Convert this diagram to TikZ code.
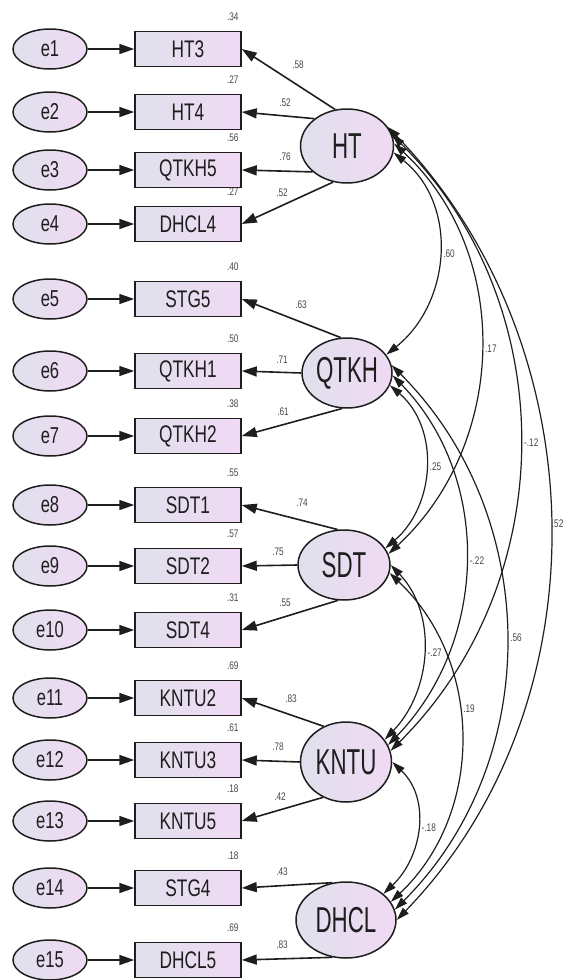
\documentclass[tikz,border=0pt]{standalone}
\usepackage{fontspec}
\setmainfont{Liberation Sans}
\newfontfamily\latfont[FakeStretch=0.62]{Liberation Sans}
\newfontfamily\obsfont[FakeStretch=0.72]{Liberation Sans}
\newfontfamily\numfont[FakeStretch=0.75]{Liberation Sans}
\usetikzlibrary{arrows.meta,shapes.geometric}
\definecolor{fillL}{RGB}{224,224,236}
\definecolor{fillR}{RGB}{240,218,244}
\definecolor{ink}{RGB}{30,30,30}
\definecolor{numc}{RGB}{70,70,70}
\begin{document}
\begin{tikzpicture}[x=1pt,y=-1pt,
 latent/.style={ellipse, draw=ink, line width=1.5pt, left color=fillL, right color=fillR, inner sep=0pt, font=\latfont\fontsize{36}{36}\selectfont, text=ink},
 errv/.style={ellipse, draw=ink, line width=1.5pt, left color=fillL, right color=fillR, minimum width=74pt, minimum height=40pt, inner sep=0pt, font=\obsfont\fontsize{23}{23}\selectfont, text=ink},
 obs/.style={rectangle, draw=ink, line width=1.5pt, left color=fillL, right color=fillR, minimum width=106pt, minimum height=35pt, inner sep=0pt, font=\obsfont\fontsize{24}{24}\selectfont, text=ink},
 num/.style={font=\numfont\fontsize{11}{11}\selectfont, text=numc, inner sep=1pt},
 load/.style={-{Triangle[length=15pt,width=10pt]}, line width=1.6pt, draw=ink},
 cov/.style={{Triangle[length=13pt,width=8pt]}-{Triangle[length=13pt,width=8pt]}, line width=1.2pt, draw=ink},
]
\useasboundingbox (0,0) rectangle (568,980);

% error terms and observed variables
\foreach \i/\nm/\yy/\r in {1/HT3/49/.34, 2/HT4/112/.27, 3/QTKH5/170/.56, 4/DHCL4/224/.27,
  5/STG5/299/.40, 6/QTKH1/371/.50, 7/QTKH2/436/.38, 8/SDT1/505/.55, 9/SDT2/566/.57,
  10/SDT4/630/.31, 11/KNTU2/698/.69, 12/KNTU3/760/.61, 13/KNTU5/821/.18, 14/STG4/888/.18, 15/DHCL5/960/.69}{
  \node[errv] (e\i) at (50,\yy) {e\i};
  \node[obs] (\nm) at (188,\yy) {\nm};
  \node[num] (r\i) at ([shift={(-9,-14)}]\nm.north east) {\r};
  \draw[load] (e\i) -- (\nm);
}

% latent variables
\node[latent, minimum width=93pt, minimum height=74pt] (HT) at (347,146) {HT};
\node[latent, minimum width=90pt, minimum height=70pt] (QTKH) at (347,373) {QTKH};
\node[latent, minimum width=92pt, minimum height=70pt] (SDT) at (344,565) {SDT};
\node[latent, minimum width=91pt, minimum height=80pt] (KNTU) at (346,762) {KNTU};
\node[latent, minimum width=100pt, minimum height=76pt] (DHCL) at (346,920) {DHCL};

% loadings
\draw[load] (HT.108) -- (HT3.east);
\draw[load] (HT.140) -- (HT4.east);
\draw[load] (HT.217) -- (QTKH5.east);
\draw[load] (HT.249) -- (DHCL4.east);
\draw[load] (QTKH.100) -- (STG5.east);
\draw[load] (QTKH.180) -- (QTKH1.east);
\draw[load] (QTKH.262) -- (QTKH2.east);
\draw[load] (SDT.100) -- (SDT1.east);
\draw[load] (SDT.180) -- (SDT2.east);
\draw[load] (SDT.260) -- (SDT4.east);
\draw[load] (KNTU.122) -- (KNTU2.east);
\draw[load] (KNTU.180) -- (KNTU3.east);
\draw[load] (KNTU.237) -- (KNTU5.east);
\draw[load] (DHCL.110) -- (STG4.east);
\draw[load] (DHCL.250) -- (DHCL5.east);

% loading values
\node[num] (l1) at (298,65) {.58};
\node[num] (l2) at (285,103) {.52};
\node[num] (l3) at (285,157) {.76};
\node[num] (l4) at (282,193) {.52};
\node[num] (l5) at (301,305) {.63};
\node[num] (l6) at (282,360) {.71};
\node[num] (l7) at (283,412) {.61};
\node[num] (l8) at (302,503) {.74};
\node[num] (l9) at (278,552) {.75};
\node[num] (l10) at (285,603) {.55};
\node[num] (l11) at (291,699) {.83};
\node[num] (l12) at (278,747) {.78};
\node[num] (l13) at (280,797) {.42};
\node[num] (l14) at (282,872) {.43};
\node[num] (l15) at (282,945) {.83};

% covariances
\draw[cov] (HT.-8) .. controls +(65,52) and +(65,-52) .. (QTKH.25)
  node[num, pos=0.5, anchor=west, inner sep=4pt] (c1) {.60};
\draw[cov] (HT.3) .. controls +(119,110) and +(119,-110) .. (SDT.14)
  node[num, pos=0.5, anchor=west, inner sep=4pt] (c2) {.17};
\draw[cov] (HT.14) .. controls +(171,170) and +(171,-170) .. (KNTU.14)
  node[num, pos=0.5, anchor=west, inner sep=4pt] (c3) {-.12};
\draw[cov] (HT.25) .. controls +(210,217) and +(210,-217) .. (DHCL.0)
  node[num, pos=0.5, anchor=west, inner sep=1.5pt] (c4) {.52};
\draw[cov] (QTKH.-16) .. controls +(50,43) and +(50,-43) .. (SDT.22)
  node[num, pos=0.5, anchor=west, inner sep=4pt] (c5) {.25};
\draw[cov] (QTKH.-3) .. controls +(100,103) and +(100,-103) .. (KNTU.22)
  node[num, pos=0.5, anchor=west, inner sep=4pt] (c6) {-.22};
\draw[cov] (QTKH.10) .. controls +(150,150) and +(150,-150) .. (DHCL.12)
  node[num, pos=0.5, anchor=west, inner sep=4pt] (c7) {.56};
\draw[cov] (SDT.0) .. controls +(47,49) and +(47,-49) .. (KNTU.30)
  node[num, pos=0.5, anchor=west, inner sep=4pt] (c8) {-.27};
\draw[cov] (SDT.-10) .. controls +(94,89) and +(94,-89) .. (DHCL.22)
  node[num, pos=0.42, anchor=west, inner sep=4pt] (c9) {.19};
\draw[cov] (KNTU.0) .. controls +(39,37) and +(39,-37) .. (DHCL.35)
  node[num, pos=0.5, anchor=west, inner sep=4pt] (c10) {-.18};
\end{tikzpicture}
\end{document}
